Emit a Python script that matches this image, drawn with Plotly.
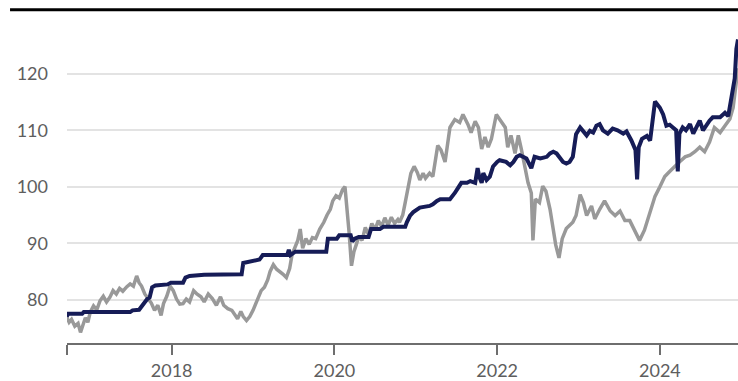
import plotly.graph_objects as go

# decimal-year dates and values
grey_t = [2016.71, 2016.74, 2016.77, 2016.81, 2016.85, 2016.88, 2016.91, 2016.94, 2016.97, 2017.00,
          2017.04, 2017.08, 2017.12, 2017.16, 2017.20, 2017.24, 2017.28, 2017.32, 2017.36, 2017.40,
          2017.45, 2017.49, 2017.53, 2017.57, 2017.60, 2017.63, 2017.67, 2017.71, 2017.75, 2017.79,
          2017.83, 2017.87, 2017.90, 2017.94, 2017.98, 2018.02, 2018.06, 2018.10, 2018.14, 2018.18,
          2018.22, 2018.27, 2018.31, 2018.36, 2018.40, 2018.45, 2018.50, 2018.55, 2018.60, 2018.64,
          2018.69, 2018.74, 2018.78, 2018.81, 2018.85, 2018.88, 2018.92, 2018.96, 2019.00, 2019.04,
          2019.07, 2019.10, 2019.14, 2019.18, 2019.21, 2019.25, 2019.29, 2019.33, 2019.37, 2019.41,
          2019.45, 2019.48, 2019.52, 2019.55, 2019.58, 2019.61, 2019.65, 2019.69, 2019.73, 2019.77,
          2019.82, 2019.87, 2019.91, 2019.95, 2019.98, 2020.02, 2020.06, 2020.10, 2020.13, 2020.15,
          2020.18, 2020.21, 2020.24, 2020.27, 2020.30, 2020.34, 2020.38, 2020.42, 2020.46, 2020.50,
          2020.54, 2020.58, 2020.62, 2020.66, 2020.70, 2020.74, 2020.78, 2020.80, 2020.84, 2020.87,
          2020.91, 2020.94, 2020.98, 2021.02, 2021.05, 2021.09, 2021.12, 2021.17, 2021.21, 2021.25,
          2021.27, 2021.31, 2021.36, 2021.42, 2021.48, 2021.54, 2021.58, 2021.64, 2021.68, 2021.73,
          2021.77, 2021.81, 2021.85, 2021.89, 2021.93, 2021.99, 2022.03, 2022.10, 2022.13, 2022.17,
          2022.22, 2022.26, 2022.30, 2022.34, 2022.38, 2022.42, 2022.44, 2022.47, 2022.52, 2022.56,
          2022.60, 2022.65, 2022.69, 2022.72, 2022.76, 2022.80, 2022.85, 2022.89, 2022.93, 2022.97,
          2023.02, 2023.06, 2023.10, 2023.16, 2023.20, 2023.26, 2023.32, 2023.39, 2023.45, 2023.51,
          2023.57, 2023.63, 2023.69, 2023.75, 2023.81, 2023.88, 2023.94, 2024.00, 2024.06, 2024.12,
          2024.18, 2024.24, 2024.31, 2024.37, 2024.43, 2024.49, 2024.55, 2024.61, 2024.67, 2024.74,
          2024.80, 2024.86, 2024.90, 2024.93, 2024.96]
grey_v = [76.9, 76.0, 76.5, 75.3, 75.8, 74.2, 75.5, 76.8, 76.0, 77.8,
          78.9, 78.2, 79.8, 80.6, 79.6, 80.4, 81.6, 81.0, 82.0, 81.5,
          82.3, 82.8, 82.4, 84.2, 83.0, 82.4, 81.0, 80.2, 79.4, 78.1,
          79.0, 77.2, 79.3, 80.6, 82.4, 81.6, 80.1, 79.2, 79.3, 80.1,
          79.6, 81.6, 81.0, 80.5, 79.6, 81.0, 80.2, 79.0, 80.5, 79.0,
          78.4, 78.1, 77.3, 76.6, 77.9, 77.0, 76.3, 77.0, 78.1, 79.5,
          80.7, 81.6, 82.2, 83.5, 85.0, 86.2, 85.4, 85.0, 84.5, 83.9,
          85.5, 88.0, 89.5, 90.5, 92.5, 89.1, 90.8, 89.8, 91.0, 90.8,
          92.5, 93.7, 95.0, 96.0, 97.5, 98.4, 98.0, 99.5, 100.0, 97.0,
          92.0, 86.0, 88.5, 89.8, 91.2, 90.5, 92.8, 91.5, 93.5, 92.4,
          94.0, 93.0, 94.5, 93.2, 94.6, 93.5, 94.2, 93.7, 95.0, 97.2,
          100.5, 102.4, 103.6, 102.5, 101.2, 102.4, 101.5, 102.4, 101.8, 105.0,
          107.3, 106.5, 104.4, 110.5, 111.9, 111.4, 112.8, 111.1, 109.6, 111.6,
          110.5, 106.7, 108.8, 107.0, 108.5, 112.8, 111.9, 110.5, 107.0, 109.1,
          105.9, 109.1, 106.5, 103.6, 100.7, 98.9, 90.5, 97.8, 97.2, 100.1,
          99.2, 96.0, 92.0, 89.7, 87.4, 90.8, 92.6, 93.1, 93.7, 94.9,
          98.6, 97.2, 94.9, 96.6, 94.3, 96.0, 97.5, 95.7, 94.9, 95.7,
          94.0, 94.0, 92.3, 90.5, 92.3, 95.7, 98.3, 100.0, 101.8, 102.7,
          103.6, 104.4, 105.3, 105.6, 106.2, 107.0, 106.2, 107.9, 110.5, 109.6,
          110.8, 112.0, 114.0, 117.4, 121.0]

navy_t = [2016.71, 2016.73, 2016.90, 2016.92, 2017.49, 2017.52, 2017.60, 2017.63, 2017.66, 2017.70,
          2017.73, 2017.76, 2017.80, 2017.95, 2017.99, 2018.14, 2018.17, 2018.22, 2018.40, 2018.86,
          2018.88, 2018.96, 2019.08, 2019.12, 2019.42, 2019.44, 2019.46, 2019.52, 2019.90, 2019.92,
          2020.03, 2020.06, 2020.20, 2020.22, 2020.25, 2020.30, 2020.42, 2020.45, 2020.56, 2020.60,
          2020.87, 2020.89, 2020.93, 2020.97, 2021.05, 2021.17, 2021.21, 2021.26, 2021.30, 2021.42,
          2021.46, 2021.48, 2021.52, 2021.56, 2021.63, 2021.67, 2021.73, 2021.76, 2021.78, 2021.81,
          2021.83, 2021.87, 2021.91, 2021.95, 2022.00, 2022.03, 2022.11, 2022.16, 2022.20, 2022.24,
          2022.28, 2022.32, 2022.36, 2022.42, 2022.46, 2022.53, 2022.61, 2022.65, 2022.69, 2022.73,
          2022.77, 2022.81, 2022.85, 2022.89, 2022.93, 2022.97, 2023.02, 2023.06, 2023.10, 2023.14,
          2023.18, 2023.22, 2023.26, 2023.30, 2023.36, 2023.42, 2023.48, 2023.55, 2023.59, 2023.65,
          2023.70, 2023.72, 2023.74, 2023.78, 2023.84, 2023.88, 2023.91, 2023.94, 2024.00, 2024.04,
          2024.08, 2024.12, 2024.16, 2024.20, 2024.22, 2024.24, 2024.28, 2024.32, 2024.37, 2024.41,
          2024.49, 2024.53, 2024.61, 2024.65, 2024.74, 2024.80, 2024.84, 2024.88, 2024.90, 2024.92,
          2024.94, 2024.96]
navy_v = [77.0, 77.5, 77.5, 77.8, 77.8, 78.1, 78.2, 78.8, 79.2, 80.1,
          80.4, 82.2, 82.5, 82.7, 83.0, 83.0, 83.9, 84.2, 84.4, 84.5,
          86.5, 86.8, 87.1, 87.9, 87.9, 88.8, 87.9, 88.5, 88.5, 90.8,
          90.8, 91.4, 91.4, 90.3, 90.8, 91.1, 91.1, 92.5, 92.5, 92.9,
          92.9, 93.7, 94.9, 95.5, 96.3, 96.6, 96.9, 97.5, 97.8, 97.8,
          98.4, 98.9, 99.8, 100.7, 100.7, 101.0, 100.7, 103.3, 101.8, 100.7,
          102.4, 101.2, 101.8, 103.6, 104.4, 104.7, 104.4, 103.8, 104.4, 105.3,
          105.6, 105.3, 105.0, 103.3, 105.3, 105.0, 105.3, 105.9, 106.2, 105.9,
          105.0, 104.4, 104.1, 104.4, 105.3, 109.3, 110.5, 109.9, 109.1, 109.9,
          109.6, 110.8, 111.1, 110.0, 109.4, 110.3, 110.0, 109.4, 109.8, 108.2,
          106.5, 101.3, 107.0, 108.5, 109.0, 108.2, 111.1, 115.1, 114.0, 112.8,
          110.8, 111.0, 110.5, 110.0, 102.7, 109.4, 110.5, 110.0, 111.1, 109.4,
          111.7, 110.0, 111.7, 112.3, 112.3, 113.1, 112.5, 115.7, 117.4, 119.2,
          124.4, 126.1]

x_tick_vals = [2018, 2020, 2022, 2024]
x_tick_text = ["2018", "2020", "2022", "2024"]
y_tick_vals = [80, 90, 100, 110, 120]

X_START, X_END = 2016.714, 2024.96

fig = go.Figure()
fig.add_trace(go.Scatter(x=grey_t, y=grey_v, mode="lines",
                         line=dict(color="#999999", width=3.5), showlegend=False))
fig.add_trace(go.Scatter(x=navy_t, y=navy_v, mode="lines",
                         line=dict(color="#161c57", width=4), showlegend=False))

fig.update_layout(
    width=738, height=381,
    margin=dict(l=67, r=0, t=20, b=31),
    paper_bgcolor="white", plot_bgcolor="white",
    font=dict(family="Lato", size=18, color="#5e5e5e"),
    xaxis=dict(range=[X_START, X_END],
               tickvals=[X_START] + x_tick_vals, ticktext=[""] + x_tick_text,
               ticks="outside", ticklen=10, tickwidth=2, tickcolor="#6e6e6e",
               showline=True, linecolor="#6e6e6e", linewidth=2,
               showgrid=False, zeroline=False),
    yaxis=dict(range=[72.32, 129.54], tickvals=y_tick_vals,
               showgrid=True, gridcolor="#e3e3e3", gridwidth=1.5,
               ticks="", ticklabelstandoff=18, zeroline=False, showline=False),
    shapes=[dict(type="line", xref="paper", yref="paper",
                 x0=-0.0849, x1=1, y0=1.0318, y1=1.0318,
                 line=dict(color="black", width=3))],
)

fig.write_html("out.html")
